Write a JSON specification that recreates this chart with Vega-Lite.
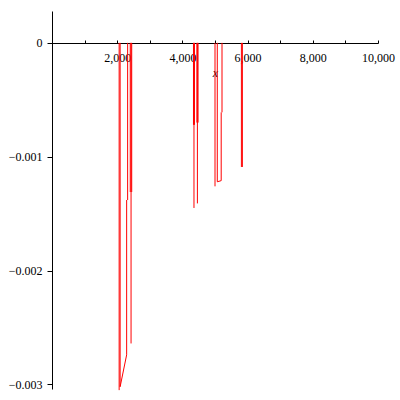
{
  "$schema": "https://vega.github.io/schema/vega-lite/v6.json",
  "width": 326,
  "height": 378,
  "autosize": {"type": "none"},
  "padding": {"left": 52, "top": 11, "right": 22, "bottom": 11},
  "background": "white",
  "config": {
    "view": {"stroke": null},
    "axis": {
      "domainColor": "black",
      "tickColor": "black",
      "labelColor": "black",
      "titleColor": "black",
      "labelFont": "Liberation Serif",
      "titleFont": "Liberation Serif",
      "labelFontSize": 12,
      "titleFontSize": 12,
      "grid": false,
      "domainWidth": 1,
      "tickWidth": 1,
      "labelFlush": false,
      "labelOverlap": false
    }
  },
  "data": {
    "values": [
      {"x": 2060, "y": 0, "x2": 2060, "y2": -0.00305},
      {"x": 2090, "y": 0, "x2": 2090, "y2": -0.00302},
      {"x": 2090, "y": -0.00302, "x2": 2290, "y2": -0.00274},
      {"x": 2290, "y": -0.00138, "x2": 2290, "y2": -0.00274},
      {"x": 2320, "y": 0, "x2": 2320, "y2": -0.00138},
      {"x": 2400, "y": 0, "x2": 2400, "y2": -0.00131},
      {"x": 2425, "y": 0, "x2": 2425, "y2": -0.00264},
      {"x": 2445, "y": 0, "x2": 2445, "y2": -0.00131},
      {"x": 4340, "y": 0, "x2": 4340, "y2": -0.00072},
      {"x": 4355, "y": 0, "x2": 4355, "y2": -0.00145},
      {"x": 4370, "y": 0, "x2": 4370, "y2": -0.00072},
      {"x": 4445, "y": 0, "x2": 4445, "y2": -0.00070},
      {"x": 4460, "y": 0, "x2": 4460, "y2": -0.00141},
      {"x": 4480, "y": 0, "x2": 4480, "y2": -0.00070},
      {"x": 5000, "y": 0, "x2": 5000, "y2": -0.00126},
      {"x": 5070, "y": 0, "x2": 5070, "y2": -0.00122},
      {"x": 5070, "y": -0.00122, "x2": 5190, "y2": -0.00121},
      {"x": 5190, "y": -0.00061, "x2": 5190, "y2": -0.00121},
      {"x": 5215, "y": 0, "x2": 5215, "y2": -0.00061},
      {"x": 5810, "y": 0, "x2": 5810, "y2": -0.00109},
      {"x": 5840, "y": 0, "x2": 5840, "y2": -0.00109}
    ]
  },
  "mark": {"type": "rule", "color": "#ff0000", "strokeWidth": 1},
  "encoding": {
    "x": {
      "field": "x",
      "type": "quantitative",
      "scale": {"domain": [0, 10000], "nice": false, "zero": false},
      "axis": {
        "orient": "bottom",
        "offset": -346,
        "values": [1000, 2000, 3000, 4000, 5000, 6000, 7000, 8000, 9000, 10000],
        "labelExpr": "datum.value % 2000 == 0 ? format(datum.value, ',') : ''",
        "tickSize": -3,
        "labelPadding": 12,
        "labelBaseline": "top",
        "title": "x",
        "titleFontStyle": "italic",
        "titleFontWeight": "normal",
        "titlePadding": 4
      }
    },
    "y": {
      "field": "y",
      "type": "quantitative",
      "scale": {"domain": [-0.00304, 0.00028], "nice": false, "zero": false},
      "axis": {
        "orient": "left",
        "values": [0, -0.001, -0.002, -0.003],
        "labelExpr": "datum.value == 0 ? '0' : format(datum.value, '.3f')",
        "tickSize": 5,
        "labelPadding": 5,
        "title": null
      }
    },
    "x2": {"field": "x2"},
    "y2": {"field": "y2"}
  }
}
